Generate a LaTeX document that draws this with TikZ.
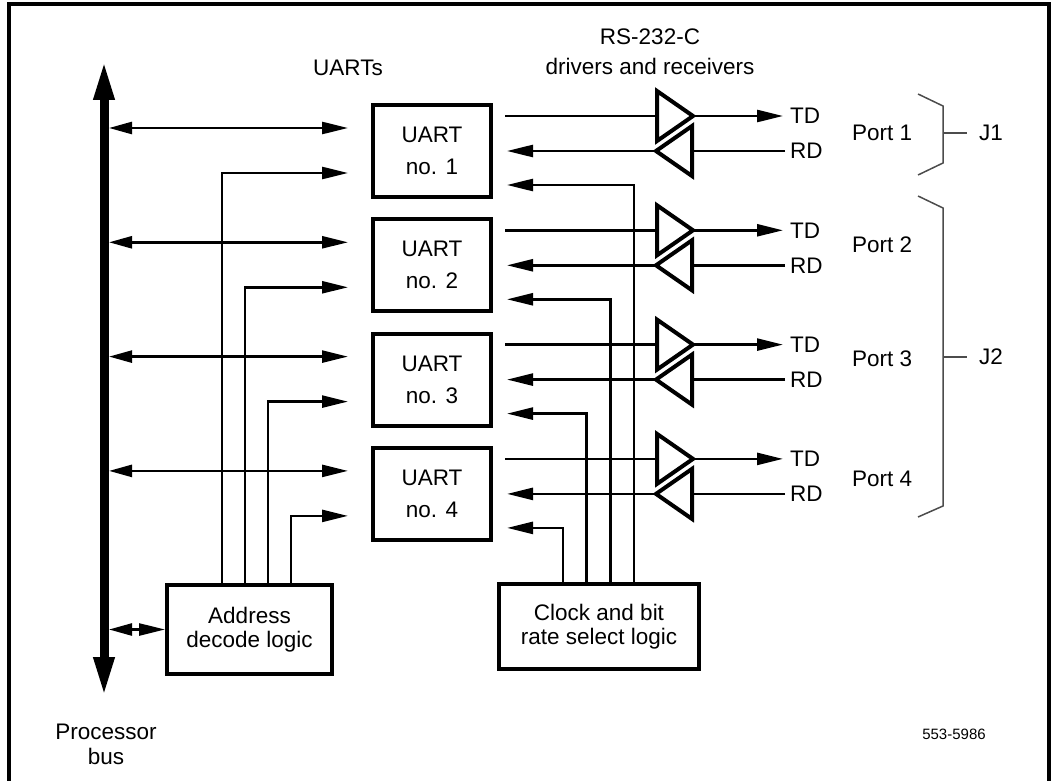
\documentclass[tikz,border=0pt]{standalone}
\usepackage{fontspec}
\setmainfont{Liberation Sans}
\usetikzlibrary{arrows.meta}
\begin{document}
\begin{tikzpicture}[x=1pt,y=-1pt,
  every node/.style={font=\fontsize{22.5}{24}\selectfont, inner sep=0pt},
  blk/.style={draw, line width=4pt, minimum width=118pt, minimum height=92pt, align=center},
  wire/.style={line width=2.5pt},
  arr/.style={wire, -{Triangle[length=26pt,width=12pt]}},
  darr/.style={wire, {Triangle[length=23pt,width=12pt]}-{Triangle[length=26pt,width=12pt]}},
  buf/.style={draw, line width=4pt, line join=miter},
  brk/.style={draw=black!70, line width=1.5pt},
]
\useasboundingbox (0,0) rectangle (1055,781);
% frame
\draw[line width=3.5pt] (9,800) -- (9,4) -- (1049,4) -- (1049,800);
% processor bus
\coordinate (bustop) at (104,60);
\coordinate (busbot) at (104,697);
\draw[line width=9pt, {Triangle[length=40pt,width=19pt]}-{Triangle[length=40pt,width=19pt]}] (bustop) -- (busbot);
% logic blocks
\node[blk, minimum width=165pt, minimum height=89pt] (addr) at (249.5,629.5) {Address\\decode logic};
\node[blk, minimum width=200pt, minimum height=85pt] (clk) at (599,626.5) {Clock and bit\\rate select logic};
\coordinate (busa) at (109,629.5);
\draw[darr] (busa) -- (addr.west);
% UART rows
\foreach \i/\py in {1/133,2/245,3/359,4/479} {
  \pgfmathsetmacro\T{105+114.3*(\i-1)}
  \pgfmathsetmacro\xa{222+23*(\i-1)}
  \pgfmathsetmacro\xc{634-23.7*(\i-1)}
  \node[blk] (u\i) at (432,\T+46) {UART\\[8pt]no. \i};
  % bus data
  \coordinate (bs\i) at (109,\T+23);
  \coordinate (bu\i) at (348,\T+23);
  \draw[darr] (bs\i) -- (bu\i);
  % address select
  \coordinate (ax\i) at (\xa,0);
  \coordinate (ad\i) at (348,\T+68);
  \draw[arr] (addr.north -| ax\i) |- (ad\i);
  % clock
  \coordinate (cx\i) at (\xc,0);
  \coordinate (ck\i) at (507,\T+80);
  \draw[arr] (clk.north -| cx\i) |- (ck\i);
  % transmit
  \coordinate (tdo\i) at (505,\T+11);
  \coordinate (db\i) at (657,\T+11);
  \coordinate (dt\i) at (693,\T+11);
  \coordinate (tde\i) at (783,\T+11);
  \draw[buf] (657,\T+11-25) -- (657,\T+11+25) -- (dt\i) -- cycle;
  \draw[wire] (tdo\i) -- (db\i);
  \draw[arr] (dt\i) -- (tde\i);
  % receive
  \coordinate (rde\i) at (785,\T+46);
  \coordinate (rb\i) at (692,\T+46);
  \coordinate (rt\i) at (656,\T+46);
  \coordinate (rdo\i) at (507,\T+46);
  \draw[buf] (692,\T+46-25) -- (692,\T+46+25) -- (rt\i) -- cycle;
  \draw[wire] (rde\i) -- (rb\i);
  \draw[arr] (rt\i) -- (rdo\i);
  % labels
  \node[anchor=west] (td\i) at (790,\T+11) {TD};
  \node[anchor=west] (rd\i) at (790,\T+46) {RD};
  \node[anchor=west] (p\i) at (852,\py) {Port \i};
}
% connector brackets
\draw[brk] (918,94) -- (943,106) -- (943,163) -- (918,175);
\coordinate (j1m) at (943,133);
\coordinate (j1e) at (967,133);
\draw[brk] (j1m) -- (j1e);
\node[anchor=west] (j1) at (979,133) {J1};
\draw[brk] (918,196) -- (943,208) -- (943,506) -- (918,517);
\coordinate (j2m) at (943,357);
\coordinate (j2e) at (967,357);
\draw[brk] (j2m) -- (j2e);
\node[anchor=west] (j2) at (979,357) {J2};
% headings
\node (uarts) at (348,68) {UARTs};
\node (rs) at (650,37) {RS-232-C};
\node (drv) at (650,66) {drivers and receivers};
\node (proc) at (106,732) {Processor};
\node (bus) at (106,756) {bus};
\node[font=\fontsize{15}{18}\selectfont] (fig) at (954,734) {553-5986};
\end{tikzpicture}
\end{document}
